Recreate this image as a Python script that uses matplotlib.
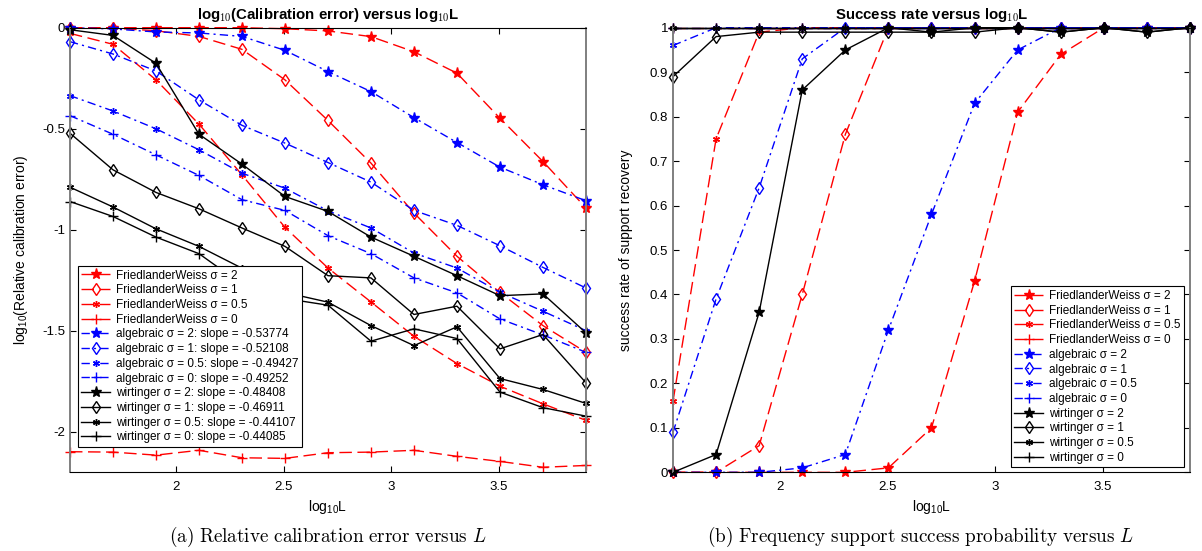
import numpy as np
import matplotlib
matplotlib.use("Agg")
import matplotlib.pyplot as plt

plt.rcParams['font.family'] = ['Liberation Sans', 'DejaVu Sans']
plt.rcParams['mathtext.fontset'] = 'cm'
plt.rcParams['mathtext.default'] = 'regular'
plt.rcParams['axes.unicode_minus'] = False

# log10 L values
log_L = [1.505, 1.705, 1.905, 2.105, 2.305, 2.505, 2.705, 2.905, 3.105, 3.305, 3.505, 3.705, 3.905]

# left panel: log10(relative calibration error)
fw2_err = [0, 0, 0, 0, 0, -0.005, -0.016, -0.044, -0.119, -0.225, -0.448, -0.662, -0.892]
fw1_err = [0, -0.002, -0.015, -0.043, -0.107, -0.258, -0.459, -0.670, -0.917, -1.131, -1.31, -1.474, -1.606]
fw05_err = [-0.028, -0.082, -0.258, -0.477, -0.728, -0.988, -1.189, -1.357, -1.527, -1.662, -1.774, -1.861, -1.943]
fw0_err = [-2.098, -2.100, -2.115, -2.091, -2.128, -2.131, -2.103, -2.100, -2.091, -2.121, -2.146, -2.175, -2.166]
alg2_err = [0, -0.006, -0.021, -0.026, -0.043, -0.112, -0.217, -0.316, -0.445, -0.568, -0.690, -0.777, -0.856]
alg1_err = [-0.069, -0.130, -0.214, -0.357, -0.483, -0.571, -0.667, -0.764, -0.904, -0.978, -1.079, -1.186, -1.288]
alg05_err = [-0.336, -0.412, -0.500, -0.604, -0.720, -0.794, -0.906, -0.991, -1.115, -1.189, -1.309, -1.403, -1.499]
alg0_err = [-0.435, -0.527, -0.629, -0.731, -0.851, -0.904, -1.029, -1.118, -1.238, -1.312, -1.441, -1.52, -1.606]
w2_err = [-0.010, -0.038, -0.176, -0.527, -0.675, -0.835, -0.909, -1.036, -1.131, -1.227, -1.326, -1.317, -1.510]
w1_err = [-0.522, -0.703, -0.815, -0.896, -0.991, -1.082, -1.227, -1.238, -1.419, -1.378, -1.589, -1.518, -1.757]
w05_err = [-0.789, -0.887, -0.995, -1.082, -1.19, -1.31, -1.358, -1.474, -1.573, -1.480, -1.736, -1.790, -1.859]
w0_err = [-0.860, -0.934, -1.036, -1.118, -1.27, -1.34, -1.373, -1.551, -1.490, -1.538, -1.803, -1.880, -1.922]

# right panel: success rate of support recovery
fw2_rate = [0, 0, 0, 0, 0, 0.01, 0.10, 0.43, 0.81, 0.94, 1, 1, 1]
fw1_rate = [0, 0, 0.06, 0.40, 0.76, 1, 1, 1, 1, 1, 1, 1, 1]
fw05_rate = [0.16, 0.75, 0.99, 1, 1, 1, 1, 1, 1, 1, 1, 1, 1]
fw0_rate = [1, 1, 1, 1, 1, 1, 1, 1, 1, 1, 1, 1, 1]
alg2_rate = [0, 0, 0, 0.01, 0.04, 0.32, 0.58, 0.83, 0.95, 1, 1, 1, 1]
alg1_rate = [0.09, 0.39, 0.64, 0.93, 1, 1, 1, 1, 1, 1, 1, 1, 1]
alg05_rate = [0.96, 1, 1, 1, 1, 1, 1, 1, 1, 1, 1, 1, 1]
alg0_rate = [1, 1, 1, 1, 1, 1, 1, 1, 1, 1, 1, 1, 1]
w2_rate = [0, 0.04, 0.36, 0.86, 0.95, 1, 0.99, 1, 1, 0.99, 1, 0.99, 1]
w1_rate = [0.89, 0.98, 0.99, 0.99, 0.99, 0.99, 0.99, 0.99, 1, 0.99, 1, 0.99, 1]
w05_rate = [1, 1, 1, 1, 1, 1, 1, 1, 1, 1, 1, 1, 1]
w0_rate = [1, 1, 1, 1, 1, 1, 1, 1, 1, 1, 1, 1, 1]

sigmas = ['2', '1', '0.5', '0']
alg_slopes = ['-0.53774', '-0.52108', '-0.49427', '-0.49252']
w_slopes = ['-0.48408', '-0.46911', '-0.44107', '-0.44085']

markers = ['*', 'd', (6, 2, 0), '+']
msizes = [8, 6, 5, 7]


def draw_series(ax, series, color, dashes, labels):
    for i, ys in enumerate(series):
        filled = (i == 0 or i == 2)
        ax.plot(log_L, ys, color=color, lw=1.0, dashes=dashes,
                marker=markers[i], markersize=msizes[i],
                markerfacecolor=color if filled else 'none',
                markeredgecolor=color, markeredgewidth=1.0,
                clip_on=False, label=labels[i])


def style_axes(ax):
    ax.tick_params(direction='in', top=True, right=True, length=4,
                   labelsize=9.5, width=0.8)
    ax.tick_params(axis='x', pad=6)
    for side in ['left', 'right']:
        ax.spines[side].set_color('#7f7f7f')
        ax.spines[side].set_linewidth(1.4)
    for side in ['top', 'bottom']:
        ax.spines[side].set_linewidth(0.8)
    ax.set_xlim(1.505, 3.905)
    ax.set_xticks([2, 2.5, 3, 3.5])
    ax.set_xticklabels(['2', '2.5', '3', '3.5'])
    ax.set_xlabel('log$_{10}$L', fontsize=10, labelpad=4)


def add_legend(ax, loc, anchor):
    leg = ax.legend(loc=loc, bbox_to_anchor=anchor, fontsize=8.5,
                    handlelength=2.4, handletextpad=0.5,
                    labelspacing=0.23, borderpad=0.3, fancybox=False,
                    framealpha=1, edgecolor='black', borderaxespad=0)
    leg.get_frame().set_linewidth(0.8)
    return leg


fig = plt.figure(figsize=(12.02, 5.51), dpi=100)
ax1 = fig.add_axes([0.0582, 0.1428, 0.4293, 0.8069])
ax2 = fig.add_axes([0.5599, 0.1428, 0.4301, 0.8069])

red_dash = (9, 4)
blue_dashdot = (6, 3, 1.5, 3)
solid = ()

sig = '\u03c3'
fw_labels = ['FriedlanderWeiss %s = %s' % (sig, s) for s in sigmas]
alg_labels_l = ['algebraic %s = %s: slope = %s' % (sig, s, k) for s, k in zip(sigmas, alg_slopes)]
w_labels_l = ['wirtinger %s = %s: slope = %s' % (sig, s, k) for s, k in zip(sigmas, w_slopes)]
alg_labels_r = ['algebraic %s = %s' % (sig, s) for s in sigmas]
w_labels_r = ['wirtinger %s = %s' % (sig, s) for s in sigmas]

# left panel
draw_series(ax1, [fw2_err, fw1_err, fw05_err, fw0_err], 'red', red_dash, fw_labels)
draw_series(ax1, [alg2_err, alg1_err, alg05_err, alg0_err], 'blue', blue_dashdot, alg_labels_l)
draw_series(ax1, [w2_err, w1_err, w05_err, w0_err], 'black', solid, w_labels_l)
style_axes(ax1)
ax1.set_ylim(-2.2, 0)
ax1.set_yticks([-2, -1.5, -1, -0.5, 0])
ax1.set_yticklabels(['-2', '-1.5', '-1', '-0.5', '0'])
ax1.set_ylabel('log$_{10}$(Relative calibration error)', fontsize=10, labelpad=9)
ax1.set_title('log$_{\\mathbf{10}}$(Calibration error) versus log$_{\\mathbf{10}}$L',
              fontsize=10.8, fontweight='bold', pad=6)
add_legend(ax1, 'lower left', (0.0155, 0.057))

# right panel
draw_series(ax2, [fw2_rate, fw1_rate, fw05_rate, fw0_rate], 'red', red_dash, fw_labels)
draw_series(ax2, [alg2_rate, alg1_rate, alg05_rate, alg0_rate], 'blue', blue_dashdot, alg_labels_r)
draw_series(ax2, [w2_rate, w1_rate, w05_rate, w0_rate], 'black', solid, w_labels_r)
style_axes(ax2)
ax2.set_ylim(0, 1)
yt = np.round(np.arange(0, 1.01, 0.1), 1)
ax2.set_yticks(yt)
ax2.set_yticklabels(['0'] + ['%.1f' % v for v in yt[1:-1]] + ['1'])
ax2.set_ylabel('success rate of support recovery', fontsize=10, labelpad=12)
ax2.set_title('Success rate versus log$_{\\mathbf{10}}$L',
              fontsize=10.8, fontweight='bold', pad=6)
add_legend(ax2, 'lower right', (0.988, 0.011))

# captions
fig.text(0.273, 0.026, r'$\mathrm{(a)\ Relative\ calibration\ error\ versus}\ \mathit{L}$',
         ha='center', va='center', fontsize=13.8)
fig.text(0.766, 0.026, r'$\mathrm{(b)\ Frequency\ support\ success\ probability\ versus}\ \mathit{L}$',
         ha='center', va='center', fontsize=13.8)

fig.savefig('out.png', dpi=100)
